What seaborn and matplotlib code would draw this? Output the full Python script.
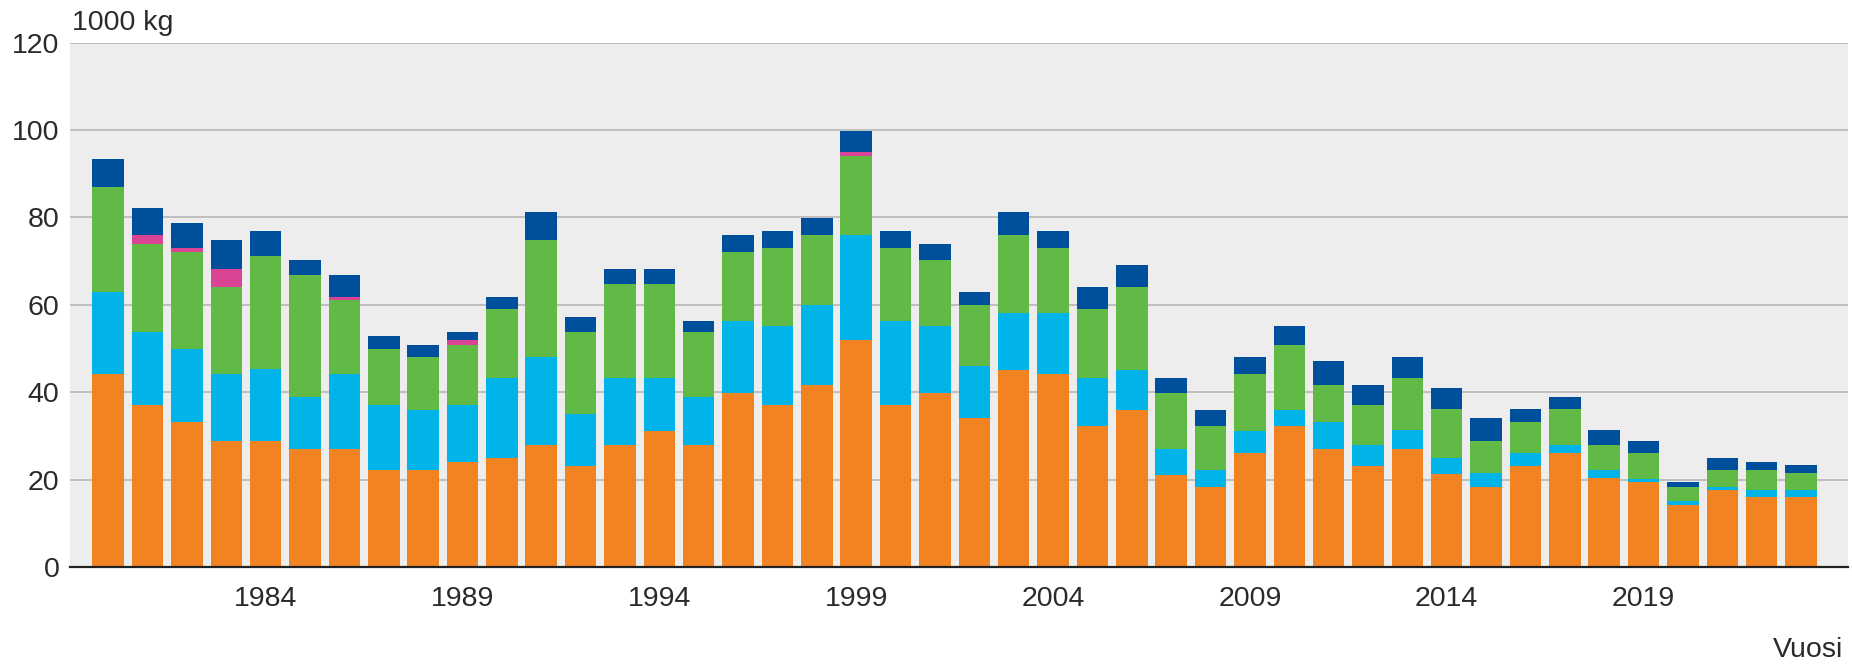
import numpy as np
import matplotlib
matplotlib.use('Agg')
import matplotlib.pyplot as plt
import seaborn as sns

# vuodet ja sarjat (1000 kg)
years = [str(y) for y in range(1980, 2024)]

orange = [44.2, 37.1, 33.2, 28.9, 28.9, 26.9, 26.9, 22.1, 22.1, 24.0,
          25.0, 27.9, 23.1, 27.9, 31.2, 27.9, 39.9, 37.1, 41.7, 51.9,
          37.1, 39.9, 34.1, 45.1, 44.2, 32.2, 36.0, 21.0, 18.2, 26.0,
          32.2, 26.9, 23.1, 27.0, 21.3, 18.3, 23.1, 26.0, 20.3, 19.4,
          14.1, 17.5, 16.0, 16.0]
cyan = [18.8, 16.7, 16.8, 15.3, 16.3, 12.0, 17.3, 15.0, 13.9, 13.1,
        18.2, 20.1, 12.0, 15.3, 12.0, 11.0, 16.4, 18.1, 18.3, 24.0,
        19.2, 15.3, 12.0, 13.0, 13.9, 11.0, 9.1, 5.9, 3.9, 5.2,
        3.8, 6.3, 4.8, 4.3, 3.7, 3.1, 2.9, 1.9, 1.8, 0.8,
        0.9, 0.8, 1.5, 1.5]
green = [24.0, 20.2, 22.1, 19.8, 26.0, 27.9, 16.8, 12.9, 12.0, 13.8,
         15.9, 26.9, 18.7, 21.6, 21.6, 14.9, 15.8, 17.9, 15.9, 18.2,
         16.8, 15.0, 13.9, 17.8, 15.0, 15.9, 18.9, 13.0, 10.1, 13.0,
         14.9, 8.5, 9.1, 12.0, 11.1, 7.5, 7.2, 8.2, 5.9, 5.8,
         3.3, 3.8, 4.6, 3.9]
magenta = [0, 1.9, 0.9, 4.2, 0, 0, 0.9, 0, 0, 1.0,
           0, 0, 0, 0, 0, 0, 0, 0, 0, 0.9,
           0, 0, 0, 0, 0, 0, 0, 0, 0, 0,
           0, 0, 0, 0, 0, 0, 0, 0, 0, 0,
           0, 0, 0, 0]
navy = [6.3, 6.3, 5.7, 6.7, 5.6, 3.4, 4.9, 2.8, 2.9, 1.9,
        2.8, 6.4, 3.3, 3.4, 3.4, 2.5, 3.8, 3.7, 3.9, 4.9,
        3.7, 3.8, 3.0, 5.4, 3.7, 4.9, 5.2, 3.3, 3.8, 3.8,
        4.3, 5.4, 4.7, 4.8, 4.9, 5.3, 2.9, 2.9, 3.3, 2.9,
        1.1, 2.9, 2.0, 1.9]

tick_years = ['1984', '1989', '1994', '1999', '2004', '2009', '2014', '2019']

colors = ['#F28322', '#00B4EA', '#62BA46', '#DB4495', '#004F9C']
layers = [orange, cyan, green, magenta, navy]

sns.set_style('white')
plt.rcParams['font.family'] = ['Liberation Sans', 'DejaVu Sans']

fig = plt.figure(figsize=(18.52, 6.67), dpi=100)
ax = fig.add_axes([0.038, 0.15, 0.960, 0.786])
ax.set_facecolor('#EDEDED')

# pinotut pylväät: piirretään kumulatiiviset summat ylhäältä alas
cum = np.cumsum(np.array(layers), axis=0)
for i in range(len(layers) - 1, -1, -1):
    sns.barplot(x=years, y=cum[i], color=colors[i], saturation=1,
                width=0.8, errorbar=None, ax=ax, zorder=3, linewidth=0)

ax.set_ylim(0, 120)
ax.set_xlim(-0.96, 44.2)
ax.set_yticks(range(0, 121, 20))
ax.set_yticklabels([str(v) for v in range(0, 121, 20)])
ax.set_xticks([years.index(t) for t in tick_years])
ax.set_xticklabels(tick_years)
ax.tick_params(axis='both', length=0, labelsize=20.5, colors='#2a2a2a')
ax.tick_params(axis='x', pad=14)
ax.tick_params(axis='y', pad=8)

ax.yaxis.grid(True, color='#BBBBBB', linewidth=1.3, zorder=0)
ax.set_axisbelow(True)
for s in ['left', 'right', 'top']:
    ax.spines[s].set_visible(False)
ax.spines['bottom'].set_color('#222222')
ax.spines['bottom'].set_linewidth(1.6)
ax.spines['bottom'].set_zorder(5)

ax.set_xlabel('')
ax.set_ylabel('')
fig.text(0.039, 0.966, '1000 kg', fontsize=20.5, color='#2a2a2a', va='center', ha='left')
fig.text(0.995, 0.026, 'Vuosi', fontsize=20.5, color='#2a2a2a', va='center', ha='right')

fig.savefig('out.png', dpi=100)
